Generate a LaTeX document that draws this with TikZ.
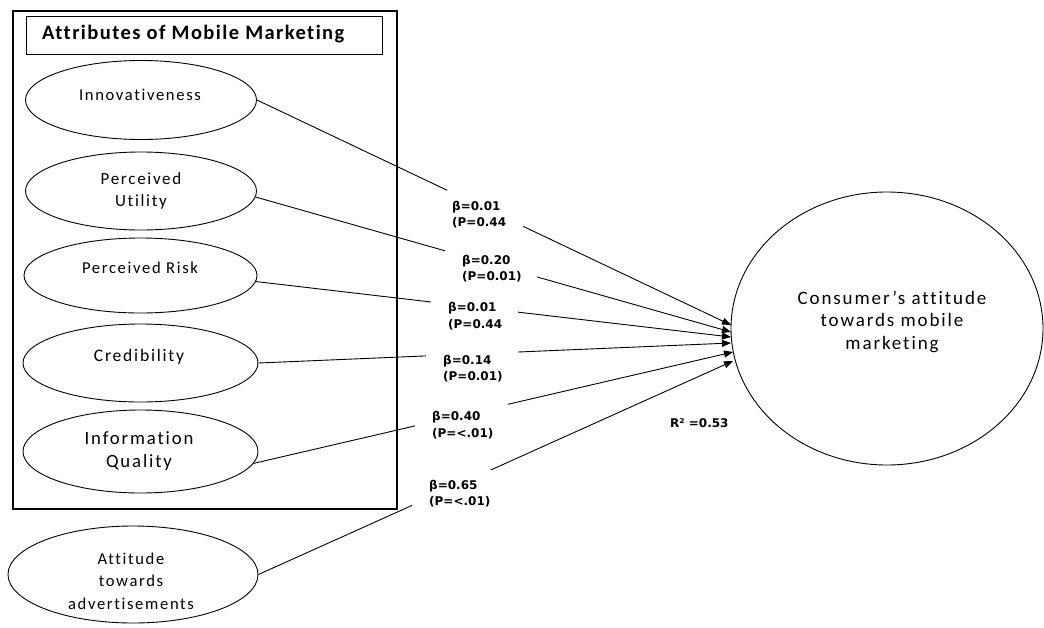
\documentclass[tikz,border=0pt]{standalone}
\usepackage{fontspec}
\setmainfont{Carlito}
\newfontfamily\cfont[LetterSpace=10,Ligatures=NoCommon]{Carlito}
\newfontfamily\tfont[LetterSpace=7,Ligatures=NoCommon]{Carlito}
\newfontfamily\dfont{DejaVu Sans}
\usetikzlibrary{shapes.geometric,arrows.meta}
\tikzset{
  oval/.style={ellipse, draw, line width=0.9pt, inner sep=0pt},
  otext/.style={font=\cfont\fontsize{16.6}{22.5}\selectfont, align=center, inner sep=0pt},
  frame/.style={draw, line width=1.1pt, inner sep=0pt},
  link/.style={line width=0.9pt},
  arr/.style={link, -{Triangle[length=9pt,width=7pt]}},
  gapbox/.style={fill=white, inner sep=0pt},
  coef/.style={font=\dfont\bfseries\fontsize{12}{16.5}\selectfont, align=left, inner sep=0pt, anchor=west}
}
\begin{document}
\begin{tikzpicture}[x=1pt,y=-1pt]
\useasboundingbox (0,0) rectangle (1044,627);
% frames
\node[frame, minimum width=384, minimum height=498] (outer) at (205,260) {};
\node[frame, line width=0.9pt, minimum width=356, minimum height=38] (titlebox) at (204,35) {};
\node[anchor=base west, inner sep=0pt, font=\tfont\bfseries\fontsize{20.5}{22}\selectfont] (title) at (42,39) {Attributes of Mobile Marketing};
% ellipses
\node[oval, minimum width=231, minimum height=79] (inno) at (141,100) {};
\node[oval, minimum width=231, minimum height=78] (util) at (141,191) {};
\node[oval, minimum width=233, minimum height=75] (risk) at (140.5,275.5) {};
\node[oval, minimum width=235, minimum height=78] (cred) at (140.5,363) {};
\node[oval, minimum width=235, minimum height=83] (info) at (140.5,451.5) {};
\node[oval, minimum width=250, minimum height=97] (att) at (133,574.5) {};
\node[oval, minimum width=312, minimum height=273] (cons) at (887,328.5) {};
% texts
\node[otext] (innot) at (140,95) {Innovativeness};
\node[otext, font=\cfont\fontsize{17}{22}\selectfont] (utilt) at (141,191) {Perceived\\Utility};
\node[otext] (riskt) at (140,267.5) {Perceived Risk};
\node[otext, font=\cfont\fontsize{17.6}{22}\selectfont] (credt) at (139,356.5) {Credibility};
\node[otext, font=\cfont\fontsize{18.7}{23}\selectfont] (infot) at (139,451) {Information\\Quality};
\node[otext] (attt) at (131,581) {Attitude\\towards\\advertisements};
\node[otext, font=\cfont\fontsize{19}{22.5}\selectfont] (const) at (892,321.5) {Consumer’s attitude\\towards mobile\\marketing};
% arrow tips
\coordinate (t1) at (731,325);
\coordinate (t2) at (731,332);
\coordinate (t3) at (731,337);
\coordinate (t4) at (731,343);
\coordinate (t5) at (733,352);
\coordinate (t6) at (733,361);
% connectors
\draw[arr] (inno.east) -- (t1);
\draw[arr] (util.-3) -- (t2);
\draw[arr] (risk.-3) -- (t3);
\draw[arr] (cred.east) -- (t4);
\draw[arr] (info.-6) -- (t5);
\draw[arr] (att.east) -- (t6);
% gaps
\node[gapbox, minimum width=76, minimum height=42] (g1) at (485,211) {};
\node[gapbox, minimum width=92, minimum height=42] (g2) at (491,268) {};
\node[gapbox, minimum width=87, minimum height=38] (g3) at (474.5,315) {};
\node[gapbox, minimum width=92, minimum height=38] (g4) at (472,368) {};
\node[gapbox, minimum width=93, minimum height=41] (g5) at (461.5,422.5) {};
\node[gapbox, minimum width=93, minimum height=42] (g6) at (458.5,491) {};
% coefficients
\node[coef] (c1) at (452,214.5) {β=0.01\\(P=0.44};
\node[coef] (c2) at (462,268.5) {β=0.20\\(P=0.01)};
\node[coef] (c3) at (448,316) {β=0.01\\(P=0.44};
\node[coef] (c4) at (443,368.5) {β=0.14\\(P=0.01)};
\node[coef] (c5) at (432,425) {β=0.40\\(P=<.01)};
\node[coef] (c6) at (429,493.5) {β=0.65\\(P=<.01)};
\node[coef] (r2) at (670,423) {R² =0.53};
\end{tikzpicture}
\end{document}
